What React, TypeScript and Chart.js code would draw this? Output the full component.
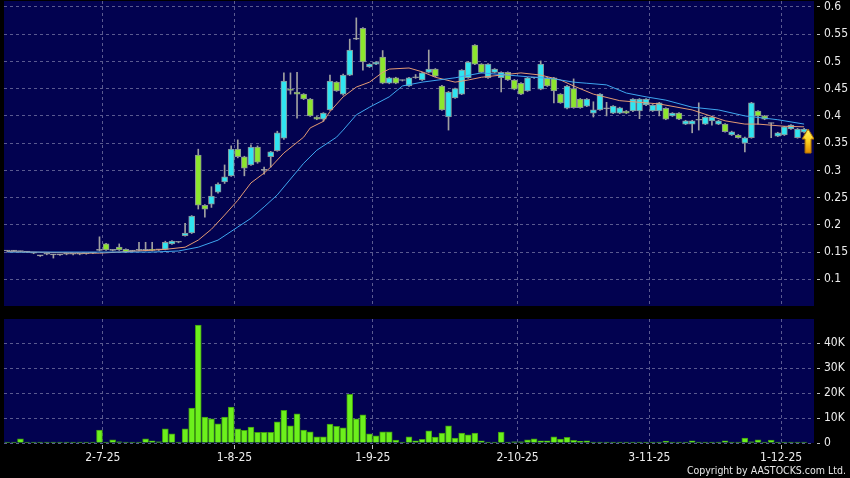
import React, { useEffect, useRef } from 'react';
import { Chart, registerables } from 'chart.js';

Chart.register(...registerables);

// ---------- data ----------
const SLOT_COUNT = 123; // 122 trading days + one empty slot at the right edge
const dateTickIndex = [15, 35, 56, 78, 98, 118];
const dateTickLabels = ['2-7-25', '1-8-25', '1-9-25', '2-10-25', '3-11-25', '1-12-25'];

const priceTicks = [0.1, 0.15, 0.2, 0.25, 0.3, 0.35, 0.4, 0.45, 0.5, 0.55, 0.6];
const PRICE_MIN = 0.051;
const PRICE_MAX = 0.611;

const volumeTicks = [0, 10000, 20000, 30000, 40000];
const volumeTickLabels = ['0', '10K', '20K', '30K', '40K'];
const VOLUME_MAX = 49700;

const opens = [
  0.152, 0.152, 0.151, 0.150, 0.148, 0.143, 0.146, 0.145, 0.145, 0.146,
  0.146, 0.146, 0.147, 0.148, 0.153, 0.165, 0.153, 0.159, 0.155, 0.152,
  0.153, 0.153, 0.155, 0.154, 0.155, 0.165, 0.168, 0.180, 0.185, 0.328,
  0.236, 0.238, 0.260, 0.279, 0.290, 0.339, 0.325, 0.310, 0.343, 0.300,
  0.325, 0.336, 0.359, 0.449, 0.444, 0.440, 0.431, 0.398, 0.394, 0.411,
  0.462, 0.440, 0.475, 0.541, 0.561, 0.490, 0.495, 0.508, 0.460, 0.470,
  0.465, 0.455, 0.470, 0.466, 0.480, 0.486, 0.455, 0.398, 0.433, 0.440,
  0.470, 0.530, 0.495, 0.470, 0.480, 0.470, 0.480, 0.466, 0.460, 0.446,
  0.470, 0.449, 0.470, 0.470, 0.440, 0.414, 0.450, 0.431, 0.418, 0.405,
  0.411, 0.413, 0.405, 0.405, 0.409, 0.409, 0.409, 0.420, 0.409, 0.409,
  0.414, 0.400, 0.405, 0.385, 0.385, 0.392, 0.385, 0.391, 0.385, 0.385,
  0.365, 0.365, 0.350, 0.360, 0.409, 0.400, 0.386, 0.363, 0.365, 0.376,
  0.360, 0.370,
];
const highs = [
  0.153, 0.153, 0.152, 0.151, 0.149, 0.144, 0.147, 0.146, 0.146, 0.147,
  0.147, 0.147, 0.148, 0.149, 0.178, 0.166, 0.154, 0.165, 0.156, 0.153,
  0.168, 0.168, 0.168, 0.155, 0.170, 0.171, 0.169, 0.203, 0.217, 0.339,
  0.237, 0.270, 0.277, 0.310, 0.345, 0.356, 0.326, 0.347, 0.345, 0.306,
  0.335, 0.372, 0.479, 0.479, 0.480, 0.441, 0.432, 0.399, 0.406, 0.475,
  0.463, 0.477, 0.541, 0.580, 0.562, 0.496, 0.500, 0.520, 0.471, 0.471,
  0.466, 0.471, 0.476, 0.480, 0.521, 0.487, 0.456, 0.445, 0.451, 0.485,
  0.500, 0.531, 0.496, 0.496, 0.487, 0.481, 0.481, 0.467, 0.461, 0.471,
  0.471, 0.501, 0.471, 0.471, 0.441, 0.456, 0.468, 0.432, 0.432, 0.426,
  0.441, 0.425, 0.419, 0.416, 0.410, 0.432, 0.432, 0.432, 0.421, 0.425,
  0.415, 0.406, 0.406, 0.392, 0.392, 0.424, 0.399, 0.399, 0.392, 0.386,
  0.372, 0.366, 0.361, 0.425, 0.410, 0.401, 0.387, 0.370, 0.381, 0.384,
  0.377, 0.377,
];
const lows = [
  0.151, 0.151, 0.150, 0.149, 0.147, 0.142, 0.145, 0.139, 0.144, 0.145,
  0.145, 0.145, 0.146, 0.147, 0.152, 0.153, 0.152, 0.153, 0.149, 0.151,
  0.152, 0.152, 0.152, 0.153, 0.154, 0.164, 0.167, 0.179, 0.184, 0.229,
  0.214, 0.232, 0.258, 0.276, 0.289, 0.323, 0.290, 0.309, 0.313, 0.293,
  0.306, 0.335, 0.357, 0.440, 0.396, 0.430, 0.399, 0.393, 0.390, 0.410,
  0.445, 0.438, 0.474, 0.540, 0.484, 0.489, 0.494, 0.459, 0.459, 0.459,
  0.464, 0.454, 0.469, 0.465, 0.479, 0.472, 0.410, 0.374, 0.432, 0.439,
  0.469, 0.494, 0.479, 0.469, 0.479, 0.444, 0.465, 0.448, 0.439, 0.445,
  0.469, 0.448, 0.454, 0.424, 0.423, 0.413, 0.414, 0.414, 0.417, 0.398,
  0.410, 0.400, 0.404, 0.404, 0.404, 0.408, 0.395, 0.419, 0.408, 0.400,
  0.393, 0.399, 0.393, 0.384, 0.369, 0.374, 0.384, 0.383, 0.384, 0.370,
  0.364, 0.359, 0.334, 0.359, 0.385, 0.393, 0.360, 0.362, 0.364, 0.375,
  0.359, 0.369,
];
const closes = [
  0.152, 0.152, 0.151, 0.150, 0.148, 0.143, 0.146, 0.145, 0.145, 0.146,
  0.146, 0.146, 0.147, 0.148, 0.153, 0.154, 0.153, 0.154, 0.150, 0.152,
  0.153, 0.153, 0.153, 0.154, 0.168, 0.170, 0.168, 0.185, 0.216, 0.236,
  0.229, 0.253, 0.275, 0.288, 0.339, 0.325, 0.304, 0.343, 0.315, 0.300,
  0.334, 0.369, 0.464, 0.447, 0.440, 0.431, 0.400, 0.394, 0.405, 0.464,
  0.446, 0.475, 0.521, 0.541, 0.499, 0.495, 0.499, 0.460, 0.470, 0.460,
  0.465, 0.470, 0.470, 0.479, 0.486, 0.473, 0.411, 0.444, 0.450, 0.484,
  0.499, 0.495, 0.480, 0.495, 0.486, 0.480, 0.466, 0.449, 0.440, 0.470,
  0.470, 0.495, 0.455, 0.446, 0.424, 0.455, 0.415, 0.415, 0.431, 0.411,
  0.440, 0.413, 0.418, 0.415, 0.405, 0.431, 0.431, 0.431, 0.420, 0.424,
  0.394, 0.405, 0.394, 0.391, 0.391, 0.392, 0.398, 0.398, 0.391, 0.371,
  0.371, 0.360, 0.360, 0.424, 0.400, 0.394, 0.386, 0.369, 0.380, 0.383,
  0.376, 0.376,
];
const volumes = [
  400, 400, 1700, 400, 400, 400, 100, 300, 200, 100,
  300, 300, 100, 100, 5200, 300, 1300, 500, 200, 300,
  400, 1700, 900, 500, 5700, 3700, 0, 5700, 14000, 47300,
  10400, 9700, 7700, 10400, 14400, 5700, 5100, 6400, 4300, 4300,
  4300, 8500, 13100, 6900, 11700, 5200, 4500, 2500, 2500, 7600,
  6700, 6100, 19500, 9700, 11300, 3700, 2900, 4500, 4500, 1200,
  400, 2500, 900, 1500, 4900, 2400, 4000, 6900, 2000, 4000,
  3300, 4000, 900, 300, 300, 4400, 100, 500, 500, 1300,
  1700, 900, 900, 2500, 1600, 2300, 1100, 700, 900, 300,
  300, 100, 100, 100, 100, 100, 100, 100, 400, 100,
  800, 400, 400, 400, 900, 100, 100, 100, 100, 900,
  400, 400, 2000, 500, 1300, 100, 1200, 200, 100, 100,
  100, 100,
];

const maShortIdx = [0, 8, 14, 20, 24, 27, 29, 31, 33, 35, 37, 39, 40, 42, 45, 46, 48, 49, 51, 53, 55, 57, 58, 61, 63, 65, 68, 70, 72, 75, 78, 81, 84, 86, 89, 93, 99, 104, 109, 112, 114, 118, 121];
const maShortVal = [0.151, 0.149, 0.148, 0.152, 0.155, 0.159, 0.172, 0.192, 0.218, 0.245, 0.277, 0.295, 0.306, 0.332, 0.361, 0.378, 0.390, 0.408, 0.435, 0.453, 0.462, 0.480, 0.486, 0.488, 0.481, 0.471, 0.462, 0.466, 0.471, 0.475, 0.479, 0.475, 0.466, 0.455, 0.440, 0.428, 0.422, 0.411, 0.391, 0.385, 0.385, 0.381, 0.380];
const maLongIdx = [0, 22, 26, 29, 32, 35, 37, 39, 41, 45, 47, 50, 51, 53, 55, 58, 60, 63, 68, 72, 76, 79, 83, 86, 88, 91, 94, 97, 100, 104, 108, 112, 117, 121];
const maLongVal = [0.150, 0.150, 0.152, 0.159, 0.172, 0.196, 0.212, 0.233, 0.255, 0.313, 0.337, 0.361, 0.374, 0.402, 0.416, 0.435, 0.455, 0.462, 0.470, 0.479, 0.475, 0.472, 0.468, 0.462, 0.460, 0.457, 0.442, 0.435, 0.429, 0.416, 0.411, 0.400, 0.393, 0.385];

// ---------- styles ----------
const FONT = "'DejaVu Sans Condensed', 'DejaVu Sans', sans-serif";
const PANEL_BG = '#020250';
const GRID = '#5a5a90';
const TEXT = '#ececec';
const TICK_COLOR = '#bdbdbd';
const UP = '#30e4f0';
const DOWN = '#8ce62e';
const DOJI = '#b0b0b0';
const BODY_BORDER = '#8a9296';
const WICK = '#a0a0a0';
const MA_SHORT = '#e39a74';
const MA_LONG = '#3ea6ef';
const VOL_FILL = '#6cf01c';
const VOL_BORDER = '#3f9a12';

const panelBg = {
  id: 'panelBg',
  beforeDraw(chart: any) {
    const { ctx, chartArea } = chart;
    if (!chartArea) return;
    ctx.save();
    ctx.fillStyle = PANEL_BG;
    ctx.fillRect(chartArea.left, chartArea.top, chartArea.right - chartArea.left, chartArea.bottom - chartArea.top);
    ctx.restore();
  },
};

function makeArrow(): HTMLCanvasElement {
  const c = document.createElement('canvas');
  c.width = 24;
  c.height = 50;
  const g = c.getContext('2d')!;
  const cx = 16;
  const top = 25;
  const grad = g.createLinearGradient(0, top, 0, top + 24);
  grad.addColorStop(0, '#fff56a');
  grad.addColorStop(0.5, '#ffd21e');
  grad.addColorStop(1, '#e08a00');
  g.beginPath();
  g.moveTo(cx, top);
  g.lineTo(cx + 6, top + 10);
  g.lineTo(cx + 3, top + 10);
  g.lineTo(cx + 3, top + 24);
  g.lineTo(cx - 3, top + 24);
  g.lineTo(cx - 3, top + 10);
  g.lineTo(cx - 6, top + 10);
  g.closePath();
  g.fillStyle = grad;
  g.fill();
  g.strokeStyle = '#b57400';
  g.lineWidth = 1;
  g.stroke();
  return c;
}

const dateTicks = (s: any) => {
  s.ticks = dateTickIndex.map((i) => ({ value: i - 0.5 }));
};

const fitRightAxis = (s: any) => {
  s.width = 36;
  s.paddingTop = 0;
  s.paddingBottom = 0;
};

export default function App() {
  const priceRef = useRef<HTMLCanvasElement>(null);
  const volRef = useRef<HTMLCanvasElement>(null);

  useEffect(() => {
    const idx = opens.map((_, i) => i);
    const bodyColors = opens.map((o, i) => (closes[i] > o ? UP : closes[i] < o ? DOWN : DOJI));
    const last = opens.length - 1;

    const priceChart = new Chart(priceRef.current!, {
      type: 'bar',
      data: {
        datasets: [
          {
            type: 'bar',
            data: idx.map((i) => ({ x: i, y: [lows[i], highs[i]] })) as any,
            backgroundColor: WICK,
            barThickness: 1,
            grouped: false,
            minBarLength: 1,
            order: 4,
          },
          {
            type: 'bar',
            data: idx.map((i) => ({ x: i, y: [opens[i], closes[i]] })) as any,
            backgroundColor: bodyColors,
            borderColor: BODY_BORDER,
            borderWidth: 1,
            borderSkipped: false,
            barThickness: 6,
            grouped: false,
            minBarLength: 1,
            order: 3,
          },
          {
            type: 'line',
            data: maShortIdx.map((x, k) => ({ x, y: maShortVal[k] })) as any,
            borderColor: MA_SHORT,
            borderWidth: 1,
            pointRadius: 0,
            tension: 0,
            order: 2,
          },
          {
            type: 'line',
            data: maLongIdx.map((x, k) => ({ x, y: maLongVal[k] })) as any,
            borderColor: MA_LONG,
            borderWidth: 1,
            pointRadius: 0,
            tension: 0,
            order: 1,
          },
          {
            type: 'line',
            data: [{ x: last, y: closes[last] }] as any,
            showLine: false,
            pointStyle: makeArrow() as any,
            pointRadius: 6,
            order: 0,
          },
        ],
      },
      options: {
        animation: false,
        responsive: false,
        events: [],
        layout: { autoPadding: false, padding: { left: 4, top: 1, right: 0, bottom: 0 } },
        plugins: { legend: { display: false }, tooltip: { enabled: false } },
        scales: {
          x: {
            type: 'linear',
            min: -0.5,
            max: SLOT_COUNT - 0.5,
            offset: false,
            afterBuildTicks: dateTicks,
            ticks: { display: false },
            grid: { color: GRID, offset: false, drawTicks: false },
            border: { display: false, dash: [3, 3] },
            afterFit: (s: any) => {
              s.height = 0;
              s.paddingLeft = 0;
              s.paddingRight = 0;
            },
          },
          y: {
            type: 'linear',
            position: 'right',
            min: PRICE_MIN,
            max: PRICE_MAX,
            afterBuildTicks: (s: any) => {
              s.ticks = priceTicks.map((v) => ({ value: v }));
            },
            ticks: {
              color: TEXT,
              font: { family: FONT, size: 12 },
              padding: 3,
              callback: (v: any) => String(v),
            },
            grid: {
              color: GRID,
              tickColor: TICK_COLOR,
              tickLength: 7,
              tickBorderDash: [0, 3, 3, 100],
            },
            border: { display: false, dash: [3, 3] },
            afterFit: fitRightAxis,
          },
        },
      } as any,
      plugins: [panelBg],
    });

    const volChart = new Chart(volRef.current!, {
      type: 'bar',
      data: {
        datasets: [
          {
            type: 'bar',
            data: idx.map((i) => ({ x: i, y: volumes[i] })) as any,
            backgroundColor: VOL_FILL,
            borderColor: VOL_BORDER,
            borderWidth: 1,
            barThickness: 6,
            grouped: false,
            minBarLength: 1,
          },
        ],
      },
      options: {
        animation: false,
        responsive: false,
        events: [],
        layout: { autoPadding: false, padding: { left: 4, top: 13, right: 0, bottom: 0 } },
        plugins: { legend: { display: false }, tooltip: { enabled: false } },
        scales: {
          x: {
            type: 'linear',
            min: -0.5,
            max: SLOT_COUNT - 0.5,
            offset: false,
            afterBuildTicks: dateTicks,
            ticks: {
              color: TEXT,
              font: { family: FONT, size: 12 },
              padding: 2,
              autoSkip: false,
              maxRotation: 0,
              callback: (_v: any, i: number) => dateTickLabels[i],
            },
            grid: {
              color: GRID,
              offset: false,
              tickColor: TICK_COLOR,
              tickLength: 6,
              tickBorderDash: [0, 2, 4, 100],
            },
            border: { display: false, dash: [3, 3] },
            afterFit: (s: any) => {
              s.height = 35;
              s.paddingLeft = 0;
              s.paddingRight = 0;
            },
          },
          y: {
            type: 'linear',
            position: 'right',
            min: 0,
            max: VOLUME_MAX,
            afterBuildTicks: (s: any) => {
              s.ticks = volumeTicks.map((v) => ({ value: v }));
            },
            ticks: {
              color: TEXT,
              font: { family: FONT, size: 12 },
              padding: 3,
              callback: (_v: any, i: number) => volumeTickLabels[i],
            },
            grid: {
              color: GRID,
              tickColor: TICK_COLOR,
              tickLength: 7,
              tickBorderDash: [0, 3, 3, 100],
            },
            border: { display: false, dash: [3, 3] },
            afterFit: fitRightAxis,
          },
        },
      } as any,
      plugins: [panelBg],
    });

    return () => {
      priceChart.destroy();
      volChart.destroy();
    };
  }, []);

  return (
    <div
      style={{
        position: 'fixed',
        left: 0,
        top: 0,
        width: 850,
        height: 478,
        background: '#000',
        overflow: 'hidden',
      }}
    >
      <canvas
        ref={priceRef}
        width={850}
        height={306}
        style={{ position: 'absolute', left: 0, top: 0, width: 850, height: 306 }}
      />
      <canvas
        ref={volRef}
        width={850}
        height={172}
        style={{ position: 'absolute', left: 0, top: 306, width: 850, height: 172 }}
      />
      <div
        style={{
          position: 'absolute',
          right: 4,
          top: 464,
          fontFamily: FONT,
          fontSize: 10.5,
          lineHeight: '13px',
          color: '#e6e6e6',
          whiteSpace: 'nowrap',
        }}
      >
        Copyright by AASTOCKS.com Ltd.
      </div>
    </div>
  );
}
